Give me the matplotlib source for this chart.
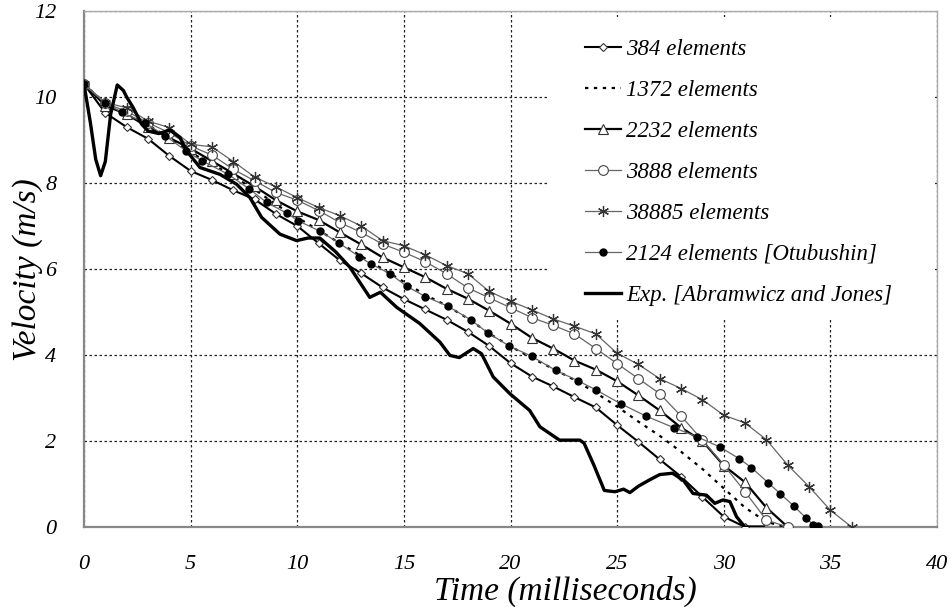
import matplotlib
matplotlib.use("Agg")
import matplotlib.pyplot as plt
from matplotlib.patches import Rectangle

# ---------------- data ----------------
t_384 = list(range(0, 32))
v_384 = [10.3, 9.63, 9.3, 9.03, 8.63, 8.28, 8.07, 7.83, 7.62, 7.28, 7.0, 6.6, 6.2, 5.9, 5.57, 5.3,
         5.06, 4.82, 4.54, 4.21, 3.81, 3.5, 3.27, 3.02, 2.78, 2.37, 1.98, 1.57, 1.17, 0.7, 0.24, 0.0]

t_1372 = [0, 1, 2, 3, 4, 5, 6, 7, 8, 9, 10, 11, 12, 13, 14, 15, 16, 17, 18, 19, 20, 21, 22, 23, 24,
          25, 26, 27, 28, 29, 30, 31, 32, 32.9]
v_1372 = [10.3, 9.85, 9.6, 9.35, 9.05, 8.7, 8.45, 8.15, 7.85, 7.5, 7.2, 6.9, 6.6, 6.3, 6.0, 5.7, 5.4,
          5.15, 4.85, 4.5, 4.2, 3.93, 3.68, 3.42, 3.12, 2.8, 2.45, 2.12, 1.75, 1.35, 0.9, 0.45, 0.12, 0.0]

t_2232 = list(range(0, 34))
v_2232 = [10.3, 9.8, 9.6, 9.3, 9.05, 8.8, 8.51, 8.22, 7.92, 7.6, 7.34, 7.14, 6.85, 6.57, 6.27, 6.04,
          5.81, 5.54, 5.31, 5.03, 4.73, 4.4, 4.15, 3.87, 3.66, 3.39, 3.06, 2.71, 2.31, 2.0, 1.43, 1.04,
          0.45, 0.0]

t_3888 = list(range(0, 34))
v_3888 = [10.3, 9.85, 9.67, 9.4, 9.17, 8.86, 8.65, 8.32, 8.05, 7.78, 7.6, 7.36, 7.08, 6.85, 6.58, 6.39,
          6.17, 5.89, 5.56, 5.33, 5.1, 4.87, 4.69, 4.49, 4.15, 3.8, 3.45, 3.1, 2.58, 2.02, 1.44, 0.82,
          0.16, 0.0]

t_38885 = list(range(0, 37))
v_38885 = [10.3, 9.87, 9.75, 9.44, 9.29, 8.9, 8.84, 8.5, 8.14, 7.91, 7.66, 7.43, 7.24, 7.0, 6.66, 6.54,
           6.33, 6.08, 5.89, 5.48, 5.25, 5.05, 4.84, 4.67, 4.49, 4.04, 3.78, 3.45, 3.22, 2.96, 2.6, 2.42,
           2.03, 1.44, 0.94, 0.39, 0.0]

t_2124 = [0, 0.98, 1.77, 2.86, 3.8, 4.78, 5.52, 6.77, 7.75, 8.56, 9.5, 10.05, 11.06, 11.97, 12.9, 13.44,
          14.35, 15.13, 16.0, 17.08, 18.13, 18.95, 19.94, 20.99, 22.13, 23.17, 24.0, 25.16, 26.35, 27.66,
          28.74, 29.82, 30.72, 31.3, 32.08, 32.66, 33.28, 33.88, 34.2, 34.43]
v_2124 = [10.3, 9.87, 9.64, 9.4, 9.1, 8.75, 8.52, 8.2, 7.86, 7.55, 7.3, 7.12, 6.88, 6.6, 6.29, 6.12,
          5.89, 5.6, 5.36, 5.13, 4.82, 4.51, 4.21, 3.97, 3.64, 3.4, 3.19, 2.87, 2.58, 2.31, 2.1, 1.86,
          1.59, 1.38, 1.03, 0.77, 0.49, 0.2, 0.05, 0.02]

t_exp = [0, 0.3, 0.55, 0.78, 1.0, 1.25, 1.56, 1.85, 2.0, 2.31, 2.7, 3.0, 3.5, 4.03, 4.5, 4.81, 5.44,
         6.38, 7.16, 7.78, 8.33, 9.19, 9.97, 10.5, 11.06, 11.8, 12.47, 13.4, 13.9, 14.66, 15.75, 16.69,
         17.16, 17.6, 18.25, 18.64, 19.19, 19.97, 20.9, 21.38, 22.3, 23.25, 23.45, 23.9, 24.4, 24.9,
         25.3, 25.6, 26.0, 26.5, 27.0, 27.6, 28.1, 28.56, 29.19, 29.58, 29.97, 30.29, 30.6, 30.99, 31.85]
v_exp = [10.3, 9.4, 8.55, 8.17, 8.5, 9.6, 10.28, 10.15, 10.0, 9.75, 9.37, 9.21, 9.15, 9.23, 9.06, 8.75,
         8.36, 8.2, 7.97, 7.66, 7.2, 6.81, 6.66, 6.72, 6.72, 6.4, 6.04, 5.34, 5.46, 5.11, 4.73, 4.3,
         3.99, 3.94, 4.15, 4.03, 3.49, 3.1, 2.71, 2.33, 2.02, 2.02, 1.95, 1.45, 0.85, 0.82,
         0.88, 0.8, 0.95, 1.09, 1.22, 1.25, 1.09, 0.78, 0.74, 0.55, 0.63, 0.59, 0.24, 0.0, 0.0]

labels = ["384 elements", "1372 elements", "2232 elements", "3888 elements", "38885 elements",
          "2124 elements [Otubushin]", "Exp. [Abramwicz and Jones]"]
x_ticks = [0, 5, 10, 15, 20, 25, 30, 35, 40]
y_ticks = [0, 2, 4, 6, 8, 10, 12]

# ---------------- figure ----------------
FONT = "Liberation Serif"
fig = plt.figure(figsize=(9.51, 6.07), dpi=100)
ax = fig.add_axes([84 / 951, 1 - 527 / 607, (937 - 84) / 951, (527 - 11) / 607])

ax.set_xlim(0, 40)
ax.set_ylim(0, 12)
ax.set_xticks(x_ticks)
ax.set_yticks(y_ticks)
ax.set_xticklabels([str(v) for v in x_ticks])
ax.set_yticklabels([str(v) for v in y_ticks])
ax.tick_params(length=0)
ax.tick_params(axis="x", pad=20)
ax.tick_params(axis="y", pad=20)
for lab in ax.get_xticklabels() + ax.get_yticklabels():
    lab.set_fontfamily(FONT)
    lab.set_fontstyle("italic")
    lab.set_fontsize(16)

ax.grid(True, color="#222222", linestyle=(0, (2, 2)), linewidth=0.9)
for side in ["left", "bottom"]:
    ax.spines[side].set_color("#888888")
    ax.spines[side].set_linewidth(1.6)
for side in ["top", "right"]:
    ax.spines[side].set_color("#aaaaaa")
    ax.spines[side].set_linewidth(1.0)

# white box hiding the grid behind the legend
ax.add_patch(Rectangle((0.543, 0.401), 0.455, 0.587, transform=ax.transAxes,
                       facecolor="white", edgecolor="none", zorder=1.8))

grey = "#666666"
h1, = ax.plot(t_384, v_384, color="black", lw=1.5, marker="D", ms=4.5, mfc="white", mec="#333333",
              mew=0.8, zorder=3, label=labels[0])
h2, = ax.plot(t_1372, v_1372, color="black", lw=1.6, linestyle=(0, (1.5, 2.5)), zorder=3, label=labels[1])
h3, = ax.plot(t_2232, v_2232, color="black", lw=1.6, marker="^", ms=7, mfc="white", mec="#333333",
              mew=0.8, zorder=3, label=labels[2])
h4, = ax.plot(t_3888, v_3888, color=grey, lw=0.9, marker="o", ms=7, mfc="white", mec="#444444",
              mew=0.8, zorder=3, label=labels[3])
h5, = ax.plot(t_38885, v_38885, color=grey, lw=0.9, marker=(6, 2, 0), ms=8, mec="#333333",
              mew=0.9, zorder=3, label=labels[4])
h6, = ax.plot(t_2124, v_2124, color=grey, lw=0.9, marker="o", ms=5, mfc="black", mec="black",
              zorder=3, label=labels[5])
h7, = ax.plot(t_exp, v_exp, color="black", lw=2.4, zorder=4, label=labels[6])

leg = ax.legend(handles=[h1, h2, h3, h4, h5, h6, h7], loc="upper left",
                bbox_to_anchor=((585 - 84) / 853, (527 - 39) / 516), frameon=False,
                borderpad=0, borderaxespad=0, handlelength=1.55, handletextpad=0.25,
                labelspacing=0.87, prop={"family": FONT, "style": "italic", "size": 16.5})
leg.set_zorder(5)

fig.text(565 / 951, 1 - 591 / 607, "Time (milliseconds)", ha="center", va="center",
         family=FONT, style="italic", fontsize=24)
fig.text(28 / 951, 1 - 270 / 607, "Velocity (m/s)", ha="center", va="center", rotation=90,
         family=FONT, style="italic", fontsize=24)

fig.savefig("out.png", dpi=100)
